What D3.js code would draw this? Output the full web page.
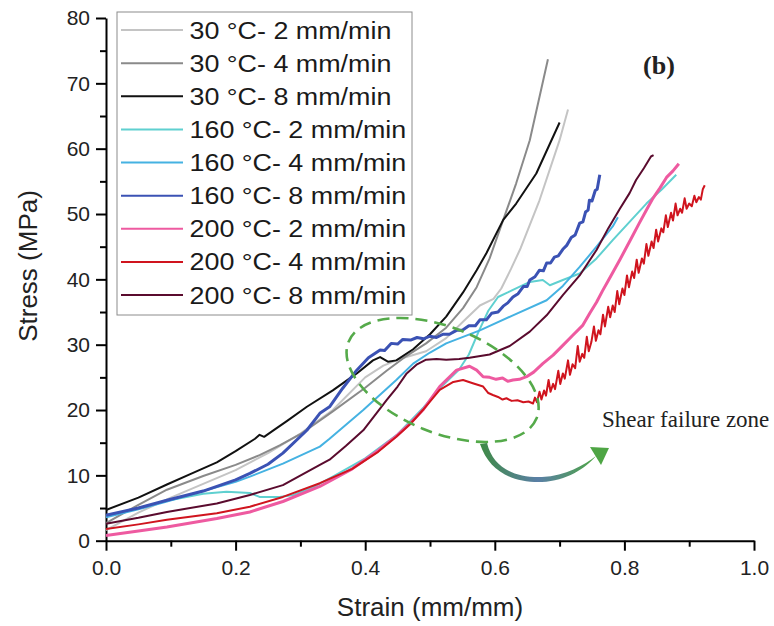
<!DOCTYPE html>
<html>
<head>
<meta charset="utf-8">
<script src="https://cdn.jsdelivr.net/npm/d3@7"></script>
<style>
  body { margin: 0; background: #fff; }
  svg { display: block; }
  .axis text { font-family: "Liberation Sans", Arial, sans-serif; font-size: 21px; fill: #222; }
  .axis path, .axis line { stroke: #000; stroke-width: 2; }
</style>
</head>
<body>
<div id="chart"></div>
<script>
// data: strain (mm/mm), stress (MPa)
const seriesNames = ['30 °C- 2 mm/min', '30 °C- 4 mm/min', '30 °C- 8 mm/min',
  '160 °C- 2 mm/min', '160 °C- 4 mm/min', '160 °C- 8 mm/min',
  '200 °C- 2 mm/min', '200 °C- 4 mm/min', '200 °C- 8 mm/min'];

const s30_2 = [[0,1.6],[0.05,4.3],[0.1,6.6],[0.15,8.7],[0.2,10.8],[0.25,13.4],[0.3,16.4],[0.35,20.0],[0.4,25.0],[0.428,26.8],[0.453,27.8],[0.494,29.0],[0.525,31.0],[0.556,34.0],[0.577,36.0],[0.598,37.0],[0.61,38.6],[0.625,41.6],[0.64,44.8],[0.669,52.1],[0.7,61.3],[0.713,66.0]];
const s30_4 = [[0,2.7],[0.05,5.5],[0.094,7.8],[0.15,9.9],[0.2,11.6],[0.237,13.1],[0.268,14.6],[0.3,16.3],[0.35,19.8],[0.4,23.4],[0.433,26.0],[0.464,28.3],[0.494,30.2],[0.525,32.6],[0.551,35.6],[0.572,38.8],[0.592,43.2],[0.613,49.1],[0.633,54.7],[0.654,61.3],[0.682,73.7]];
const s30_8 = [[0,4.7],[0.05,6.6],[0.094,8.6],[0.13,10.2],[0.171,12.0],[0.2,13.7],[0.23,15.6],[0.237,16.2],[0.244,15.9],[0.26,17.0],[0.279,18.3],[0.31,20.5],[0.35,23.0],[0.387,25.6],[0.412,27.6],[0.423,28.1],[0.435,27.4],[0.448,27.6],[0.474,29.3],[0.5,31.6],[0.525,34.3],[0.551,38.0],[0.572,41.4],[0.587,44.0],[0.613,49.1],[0.633,51.6],[0.664,56.2],[0.7,64.0]];
const s160_2 = [[0,3.8],[0.05,5.0],[0.094,6.1],[0.15,7.2],[0.186,7.5],[0.222,7.3],[0.232,6.9],[0.237,6.7],[0.268,6.7],[0.289,7.0],[0.32,8.2],[0.35,9.8],[0.4,12.6],[0.45,16.3],[0.49,20.4],[0.52,23.8],[0.545,26.2],[0.56,28.5],[0.575,32.0],[0.59,35.2],[0.605,37.3],[0.62,38.0],[0.628,38.4],[0.654,39.6],[0.674,39.9],[0.685,39.1],[0.705,39.9],[0.731,40.9],[0.757,43.2],[0.782,46.0],[0.808,48.8],[0.834,51.6],[0.858,53.8],[0.88,56.0]];
const s160_4 = [[0,3.6],[0.05,4.8],[0.094,6.0],[0.15,7.6],[0.2,9.0],[0.222,9.8],[0.273,11.8],[0.33,14.4],[0.345,15.6],[0.397,20.0],[0.448,24.6],[0.474,27.1],[0.5,28.8],[0.525,30.2],[0.577,32.2],[0.628,34.5],[0.68,36.8],[0.705,39.0],[0.731,41.9],[0.757,45.0],[0.782,48.1],[0.79,49.5]];
const s160_8 = [[0,3.9],[0.05,5.0],[0.094,6.2],[0.15,7.6],[0.2,9.3],[0.222,10.3],[0.25,11.7],[0.273,13.4],[0.31,16.9],[0.33,19.5],[0.345,20.5],[0.365,23.3],[0.387,26.1],[0.405,28.0],[0.423,29.2],[0.43,29.1],[0.44,30.2],[0.45,30.1],[0.458,30.8],[0.47,30.7],[0.48,31.1],[0.49,30.9],[0.5,31.3],[0.51,31.1],[0.52,31.6],[0.53,31.6],[0.541,32.2],[0.55,32.2],[0.56,32.9],[0.57,32.9],[0.577,33.8],[0.587,33.8],[0.595,34.8],[0.605,35.0],[0.613,35.9],[0.62,36.4],[0.628,37.3],[0.636,37.8],[0.644,38.9],[0.65,38.9],[0.654,39.9],[0.662,40.4],[0.669,41.4],[0.675,41.3],[0.68,42.5],[0.686,42.5],[0.692,43.4],[0.698,43.6],[0.705,44.6],[0.711,45.2],[0.718,46.4],[0.724,46.8],[0.731,48.6],[0.736,48.8],[0.74,50.3],[0.744,50.6],[0.746,52.1],[0.75,52.0],[0.755,53.6],[0.758,53.8],[0.762,56.0]];
const s200_2 = [[0,0.8],[0.05,1.5],[0.094,2.1],[0.171,3.4],[0.222,4.4],[0.273,6.0],[0.33,8.3],[0.38,11.0],[0.42,13.8],[0.448,16.0],[0.47,18.0],[0.489,20.0],[0.515,23.6],[0.541,26.1],[0.561,26.7],[0.572,26.1],[0.582,25.1],[0.592,25.0],[0.602,24.7],[0.612,24.9],[0.62,24.4],[0.628,24.6],[0.638,24.7],[0.649,25.1],[0.66,25.8],[0.674,27.1],[0.69,28.4],[0.705,29.9],[0.72,31.4],[0.736,33.0],[0.747,34.9],[0.757,36.5],[0.766,38.2],[0.775,39.8],[0.784,41.4],[0.793,43.0],[0.808,45.8],[0.823,48.6],[0.834,50.6],[0.844,52.4],[0.855,54.0],[0.865,55.6],[0.875,56.6],[0.884,57.7]];
const s200_4 = [[0,1.8],[0.05,2.5],[0.094,3.2],[0.171,4.2],[0.222,5.2],[0.273,6.7],[0.33,8.8],[0.38,11.0],[0.42,13.6],[0.448,15.9],[0.47,17.9],[0.489,20.0],[0.515,23.1],[0.536,24.3],[0.551,24.6],[0.566,24.1],[0.582,23.6],[0.59,22.6],[0.597,22.3],[0.605,22.0],[0.612,21.6],[0.618,21.8],[0.626,21.4],[0.635,21.5],[0.644,21.2],[0.652,21.3],[0.659,21.0],
  [0.662,21.9],[0.665,21.2],[0.669,22.8],[0.672,21.6],[0.676,23.0],[0.679,22.2],[0.683,24.6],[0.686,22.8],[0.690,24.0],[0.693,23.2],[0.698,26.0],[0.701,24.0],[0.705,25.6],[0.708,24.8],[0.713,27.6],[0.716,25.4],[0.72,27.0],[0.724,26.4],[0.728,29.8],[0.731,27.4],[0.735,28.6],[0.738,28.0],[0.742,31.2],[0.745,29.0],[0.749,30.4],[0.753,32.8],[0.756,30.6],[0.76,32.2],[0.763,31.6],[0.767,34.6],[0.77,32.8],[0.775,35.8],[0.778,34.2],[0.782,36.0],[0.785,35.0],[0.789,38.2],[0.792,36.2],[0.797,38.6],[0.8,37.6],[0.804,40.6],[0.807,38.8],[0.812,41.2],[0.815,40.2],[0.819,43.0],[0.822,41.0],[0.827,43.2],[0.83,42.4],[0.834,45.4],[0.837,43.6],[0.842,45.8],[0.845,44.8],[0.849,47.6],[0.852,45.8],[0.857,47.8],[0.86,47.2],[0.864,49.8],[0.867,48.0],[0.872,50.2],[0.875,49.0],[0.879,51.6],[0.882,49.8],[0.886,50.8],[0.889,50.2],[0.893,52.4],[0.896,50.8],[0.9,51.6],[0.904,51.2],[0.908,52.8],[0.911,51.8],[0.915,52.6],[0.918,52.2],[0.921,53.8],[0.924,54.4]];
const s200_8 = [[0,2.6],[0.05,3.5],[0.094,4.4],[0.171,5.7],[0.222,7.0],[0.273,8.5],[0.33,11.6],[0.345,12.4],[0.37,14.5],[0.397,16.9],[0.433,21.5],[0.45,23.6],[0.464,25.6],[0.48,27.0],[0.494,27.7],[0.51,27.8],[0.525,27.7],[0.545,27.8],[0.561,28.0],[0.592,28.5],[0.623,29.8],[0.654,32.0],[0.68,34.5],[0.705,37.6],[0.731,40.6],[0.757,44.5],[0.775,47.8],[0.793,50.8],[0.808,53.2],[0.818,55.2],[0.83,57.0],[0.841,58.8],[0.845,59.0]];

const allSeries = [s30_2, s30_4, s30_8, s160_2, s160_4, s160_8, s200_2, s200_4, s200_8];
const colors = ['#c4c4c4', '#8a8a8a', '#111111', '#5fd0d0', '#45b2e2', '#3b52b4', '#ee5aa0', '#d0141e', '#5a0b2e'];
const widths = [2, 2, 2, 2, 2, 3, 3, 2, 2];

const xTicks = [0, 0.2, 0.4, 0.6, 0.8, 1.0];
const xMinor = [0.1, 0.3, 0.5, 0.7, 0.9];
const yTicks = [0, 10, 20, 30, 40, 50, 60, 70, 80];
const yMinor = [5, 15, 25, 35, 45, 55, 65, 75];

const width = 774;
const height = 626;

const svg = d3.select('#chart').append('svg')
  .attr('width', width)
  .attr('height', height);

const x = d3.scaleLinear().domain([0, 1]).range([106, 754]);
const y = d3.scaleLinear().domain([0, 80]).range([540.7, 18]);

// axes
svg.append('g').attr('class', 'axis')
  .attr('transform', `translate(0,${y(0)})`)
  .call(d3.axisBottom(x).tickValues(xTicks).tickFormat(d3.format('.1f')).tickSize(10).tickSizeOuter(0).tickPadding(9));
svg.append('g').attr('class', 'axis')
  .attr('transform', `translate(0,${y(0)})`)
  .call(d3.axisBottom(x).tickValues(xMinor).tickFormat('').tickSize(6).tickSizeOuter(0))
  .select('.domain').remove();

svg.append('g').attr('class', 'axis')
  .attr('transform', `translate(${x(0)},0)`)
  .call(d3.axisLeft(y).tickValues(yTicks).tickSize(10).tickSizeOuter(0).tickPadding(6));
svg.append('g').attr('class', 'axis')
  .attr('transform', `translate(${x(0)},0)`)
  .call(d3.axisLeft(y).tickValues(yMinor).tickFormat('').tickSize(6).tickSizeOuter(0))
  .select('.domain').remove();

svg.append('text')
  .attr('x', 430).attr('y', 616)
  .attr('text-anchor', 'middle')
  .style('font-family', '"Liberation Sans", Arial, sans-serif')
  .style('font-size', '26px').style('fill', '#222')
  .text('Strain (mm/mm)');

svg.append('text')
  .attr('transform', 'translate(37,266) rotate(-90)')
  .attr('text-anchor', 'middle')
  .style('font-family', '"Liberation Sans", Arial, sans-serif')
  .style('font-size', '26px').style('fill', '#222')
  .text('Stress (MPa)');

// curves
const line = d3.line()
  .x(d => x(d[0]))
  .y(d => y(d[1]));

svg.append('g').selectAll('path')
  .data(allSeries)
  .enter()
  .append('path')
  .attr('d', line)
  .attr('fill', 'none')
  .attr('stroke', (d, i) => colors[i])
  .attr('stroke-width', (d, i) => widths[i])
  .attr('stroke-linejoin', 'round');

// shear failure zone
svg.append('ellipse')
  .attr('cx', 442.6).attr('cy', 380)
  .attr('rx', 101.5).attr('ry', 52.6)
  .attr('transform', 'rotate(22.2,442.6,380)')
  .attr('fill', 'none')
  .attr('stroke', '#55aa4a')
  .attr('stroke-width', 2.6)
  .attr('stroke-dasharray', '12,7');

const defs = svg.append('defs');
const grad = defs.append('linearGradient').attr('id', 'arrowGrad')
  .attr('x1', '0%').attr('x2', '100%').attr('y1', '0%').attr('y2', '0%');
grad.append('stop').attr('offset', '0%').attr('stop-color', '#3f8a45');
grad.append('stop').attr('offset', '50%').attr('stop-color', '#5a7fa6');
grad.append('stop').attr('offset', '100%').attr('stop-color', '#4ea544');

svg.append('path')
  .attr('d', 'M487,443 C493,468 515,478 542,477 C566,476 584,465 596,456 C586,468 566,481 542,482 C512,483 489,471 480,444 Z')
  .attr('fill', 'url(#arrowGrad)');
svg.append('path')
  .attr('d', 'M609,448 L590,447 L601,465 Z')
  .attr('fill', '#4ea544');

svg.append('text')
  .attr('x', 602).attr('y', 427)
  .style('font-family', '"Liberation Serif", "Times New Roman", serif')
  .style('font-size', '23px').style('fill', '#222')
  .text('Shear failure zone');

svg.append('text')
  .attr('x', 659).attr('y', 74)
  .attr('text-anchor', 'middle')
  .style('font-family', '"Liberation Serif", "Times New Roman", serif')
  .style('font-size', '26px').style('font-weight', 'bold').style('fill', '#222')
  .text('(b)');

// legend
const legend = svg.append('g');
legend.append('rect')
  .attr('x', 117).attr('y', 12)
  .attr('width', 295).attr('height', 303)
  .attr('fill', '#fff')
  .attr('stroke', '#8c8c8c')
  .attr('stroke-width', 1);

const rowY = d3.scaleLinear().domain([0, 8]).range([30, 295]);
const rows = legend.selectAll('g.row')
  .data(seriesNames)
  .enter()
  .append('g')
  .attr('class', 'row');
rows.append('line')
  .attr('x1', 121).attr('x2', 183)
  .attr('y1', (d, i) => rowY(i)).attr('y2', (d, i) => rowY(i))
  .attr('stroke', (d, i) => colors[i])
  .attr('stroke-width', 2);
rows.append('text')
  .attr('transform', (d, i) => `translate(189.5,${rowY(i) + 8.5}) scale(1.12,1)`)
  .style('font-family', '"Liberation Sans", Arial, sans-serif')
  .style('font-size', '24px').style('fill', '#1a1a1a')
  .text(d => d);
</script>
</body>
</html>
